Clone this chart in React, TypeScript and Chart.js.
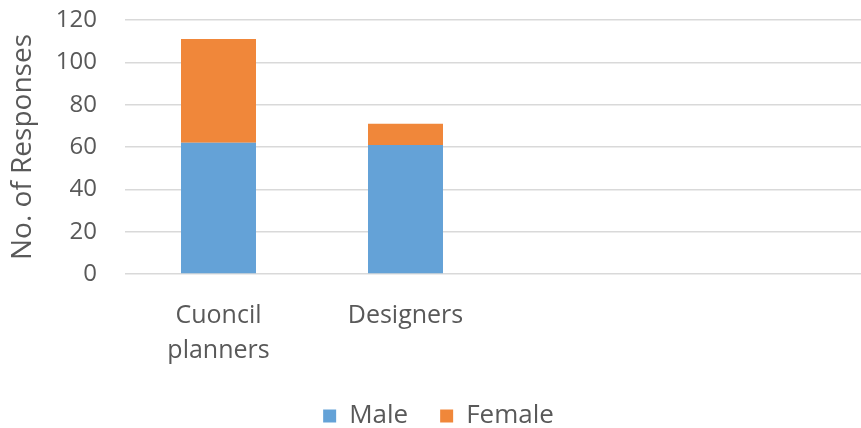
import React, { useEffect, useRef } from "react";
import { Chart, registerables } from "chart.js";

Chart.register(...registerables);

const categories: (string | string[])[] = [["Cuoncil", "planners"], "Designers", "", ""];
const maleValues = [62, 61, null, null];
const femaleValues = [49, 10, null, null];
const yTicks = { min: 0, max: 120, step: 20 };

const TEXT = "#595959";
const FONT = "'Open Sans', 'Noto Sans', sans-serif";

export default function App() {
  const ref = useRef<HTMLCanvasElement | null>(null);
  useEffect(() => {
    document.body.style.margin = "0";
    const ctx = ref.current!;
    const chart = new Chart(ctx, {
      type: "bar",
      data: {
        labels: categories,
        datasets: [
          { label: "Male", data: maleValues, backgroundColor: "#64A2D7", barPercentage: 0.401, categoryPercentage: 1 },
          { label: "Female", data: femaleValues, backgroundColor: "#F0873A", barPercentage: 0.401, categoryPercentage: 1 },
        ],
      },
      options: {
        responsive: false,
        animation: false,
        layout: { padding: { top: 0, right: 0, left: 4, bottom: -11 } },
        plugins: {
          legend: {
            position: "bottom",
            labels: { boxWidth: 13, boxHeight: 13, color: TEXT, font: { family: FONT, size: 26 }, padding: 32 },
          },
          tooltip: { enabled: false },
        },
        scales: {
          x: {
            stacked: true,
            afterFit: (s: any) => { s.height = 97; },
            grid: { display: false, drawTicks: false },
            border: { display: false },
            ticks: { color: TEXT, font: { family: FONT, size: 25, lineHeight: 1.4 }, padding: 24, maxRotation: 0 },
          },
          y: {
            stacked: true,
            min: yTicks.min,
            max: yTicks.max,
            afterFit: (s: any) => { s.width = 121; s.paddingTop = 20; },
            ticks: { stepSize: yTicks.step, color: TEXT, font: { family: FONT, size: 24 }, padding: 28 },
            grid: { color: "#D9D9D9", lineWidth: 1.5, drawTicks: false },
            border: { display: false },
            title: { display: true, text: "No. of Responses", color: TEXT, font: { family: FONT, size: 28 }, padding: { top: 2, bottom: 0 } },
          },
        },
      },
    });
    return () => chart.destroy();
  }, []);
  return (
    <div style={{ width: 861, height: 428, overflow: "hidden" }}>
      <canvas ref={ref} width={873} height={428} style={{ display: "block" }} />
    </div>
  );
}
